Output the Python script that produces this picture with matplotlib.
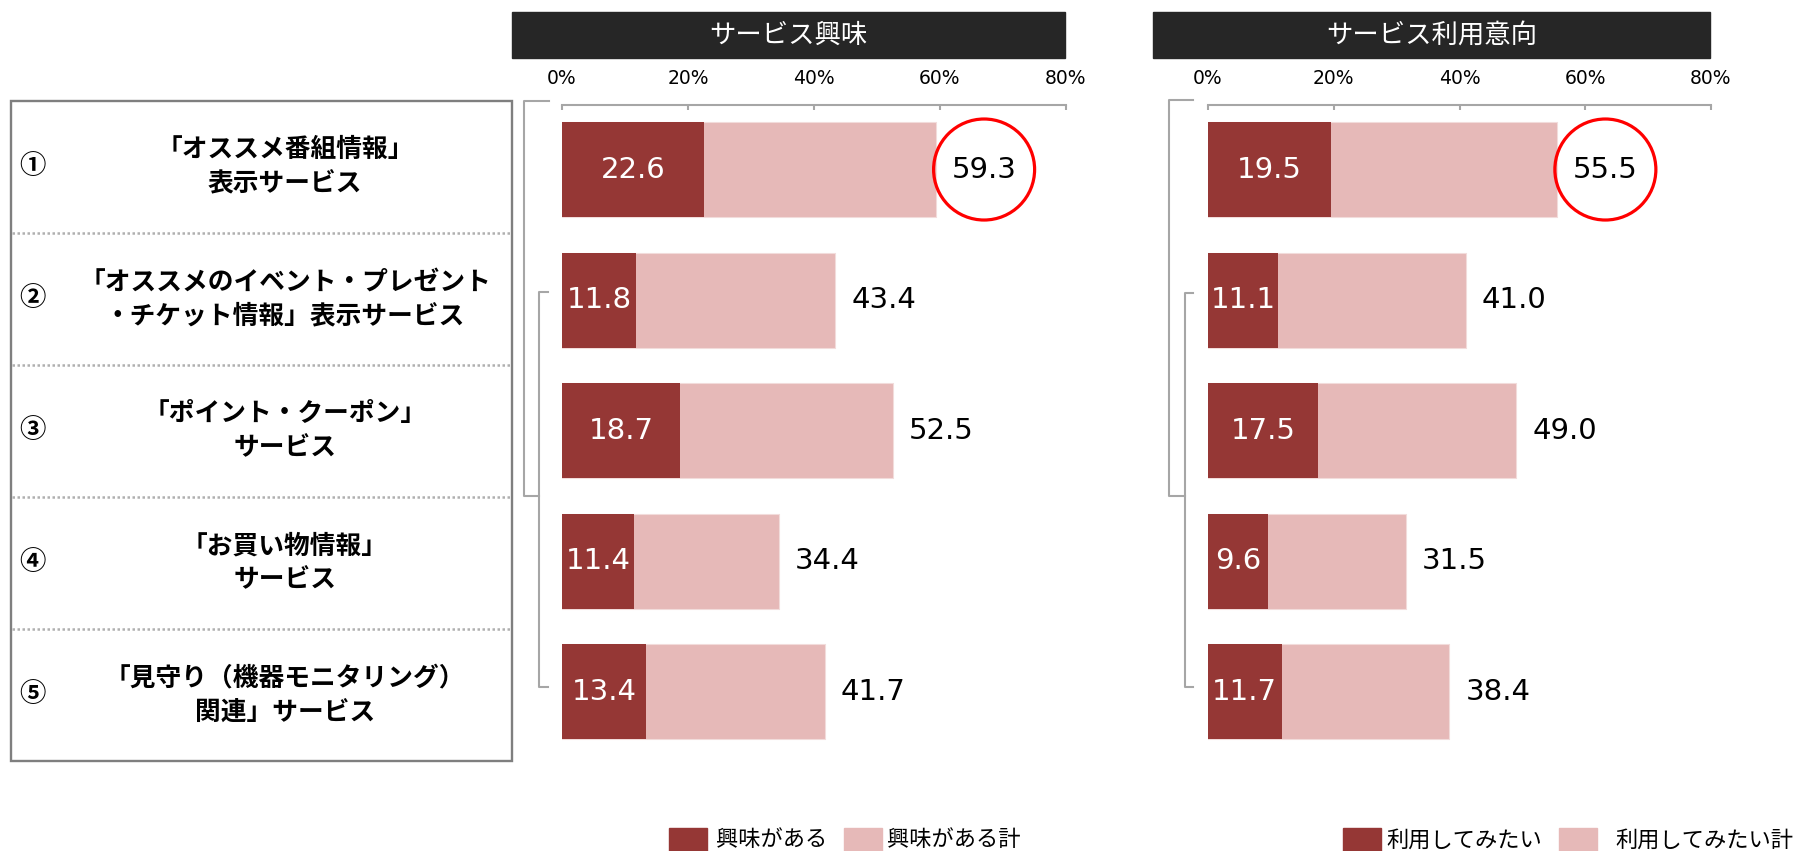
import numpy as np
import matplotlib.pyplot as plt
from matplotlib.patches import Rectangle

plt.rcParams['font.family'] = ['Noto Sans CJK JP', 'DejaVu Sans']

# データ
services = ["「オススメ番組情報」\n表示サービス",
            "「オススメのイベント・プレゼント\n・チケット情報」表示サービス",
            "「ポイント・クーポン」\nサービス",
            "「お買い物情報」\nサービス",
            "「見守り（機器モニタリング）\n関連」サービス"]
numbers = ["①", "②", "③", "④", "⑤"]

interest_some = [22.6, 11.8, 18.7, 11.4, 13.4]
interest_total = [59.3, 43.4, 52.5, 34.4, 41.7]
use_some = [19.5, 11.1, 17.5, 9.6, 11.7]
use_total = [55.5, 41.0, 49.0, 31.5, 38.4]

xticks = [0, 20, 40, 60, 80]
xticklabels = ["0%", "20%", "40%", "60%", "80%"]
titles = ["サービス興味", "サービス利用意向"]
legend_interest = ["興味がある", "興味がある計"]
legend_use = ["利用してみたい", "利用してみたい計"]
highlight = 0  # 丸で囲む行

DARK = "#953735"
PINK = "#E6B9B8"
GRAY = "#a6a6a6"

W, H = 1805, 851
fig = plt.figure(figsize=(W / 100, H / 100), dpi=100)


def px_axes(x0, y0, x1, y1):
    return fig.add_axes([x0 / W, 1 - y1 / H, (x1 - x0) / W, (y1 - y0) / H])


canvas = px_axes(0, 0, W, H)
canvas.set_xlim(0, W)
canvas.set_ylim(H, 0)
canvas.axis('off')

# 左の表
tab = px_axes(11, 101, 512, 761)
tab.set_xlim(0, 501)
tab.set_ylim(len(services), 0)
tab.axis('off')
tab.add_patch(Rectangle((0, 0), 501, len(services), fill=False,
                        edgecolor='#7f7f7f', lw=1.7, clip_on=False))
for i in range(1, len(services)):
    tab.plot([1, 500], [i, i], color='#b0b0b0', lw=1.8, ls=(0, (1, 1)))
for i, (num, name) in enumerate(zip(numbers, services)):
    tab.text(21, i + 0.5, num, ha='center', va='center', fontsize=19,
             fontweight='bold')
    lines = name.split("\n")
    for k, line in enumerate(lines):
        tab.text(274, i + 0.5 + (k - 0.5) * 0.26, line, ha='center',
                 va='center', fontsize=18.5, fontweight='bold')


def draw_panel(x0, x1, some, total, title, hx0, hx1, legend_labels, lx):
    ax = px_axes(x0, 105, x1, 761)
    y = np.arange(len(some))
    ax.barh(y, total, height=0.727, color=PINK, edgecolor='#F2DCDB', lw=0.8)
    ax.barh(y, some, height=0.727, color=DARK)
    ax.set_xlim(0, 80)
    ax.set_ylim(4.529, -0.494)
    ax.patch.set_visible(False)
    for s in ['left', 'right', 'bottom']:
        ax.spines[s].set_visible(False)
    ax.spines['top'].set_color(GRAY)
    ax.spines['top'].set_linewidth(1.5)
    ax.xaxis.tick_top()
    ax.set_xticks(xticks)
    ax.set_xticklabels(xticklabels, family='DejaVu Sans')
    ax.tick_params(axis='x', direction='in', length=3.6, width=1.5,
                   color=GRAY, labelsize=13.5, pad=12.5)
    ax.set_yticks([])
    for i, (a, t) in enumerate(zip(some, total)):
        ax.text(a / 2, i, f"{a:.1f}", color='white', ha='center',
                va='center', fontsize=21, family='DejaVu Sans')
        ax.text(t + 7.7, i, f"{t:.1f}", color='black', ha='center',
                va='center', fontsize=21, family='DejaVu Sans')
    ax.scatter([total[highlight] + 7.7], [highlight], s=5290,
               facecolors='none', edgecolors='#FF0000', linewidths=2.3,
               clip_on=False, zorder=5)

    canvas.add_patch(Rectangle((hx0, 12), hx1 - hx0, 46, color='#262626'))
    canvas.text((hx0 + hx1) / 2, 35, title, color='white', ha='center',
                va='center', fontsize=19)

    # 凡例
    for (px, tx), lab, c in zip(lx, legend_labels, [DARK, PINK]):
        canvas.add_patch(Rectangle((px, 828), 38, 30, color=c))
        canvas.text(tx, 840, lab, ha='left', va='center', fontsize=16)


draw_panel(562, 1066, interest_some, interest_total, titles[0], 512, 1065,
           legend_interest, [(669, 716), (844, 887)])
draw_panel(1208, 1711, use_some, use_total, titles[1], 1153, 1710,
           legend_use, [(1343, 1386), (1559, 1615)])

# 角括弧の線
bracket_kw = dict(color=GRAY, lw=1.5)
canvas.plot([549, 524, 524, 539], [101, 101, 496, 496], **bracket_kw)
canvas.plot([548, 539, 539, 548], [292, 292, 687, 687], **bracket_kw)
canvas.plot([1193, 1169, 1169, 1185], [100, 100, 496, 496], **bracket_kw)
canvas.plot([1193, 1185, 1185, 1193], [293, 293, 687, 687], **bracket_kw)

fig.savefig("out.png", dpi=100)
